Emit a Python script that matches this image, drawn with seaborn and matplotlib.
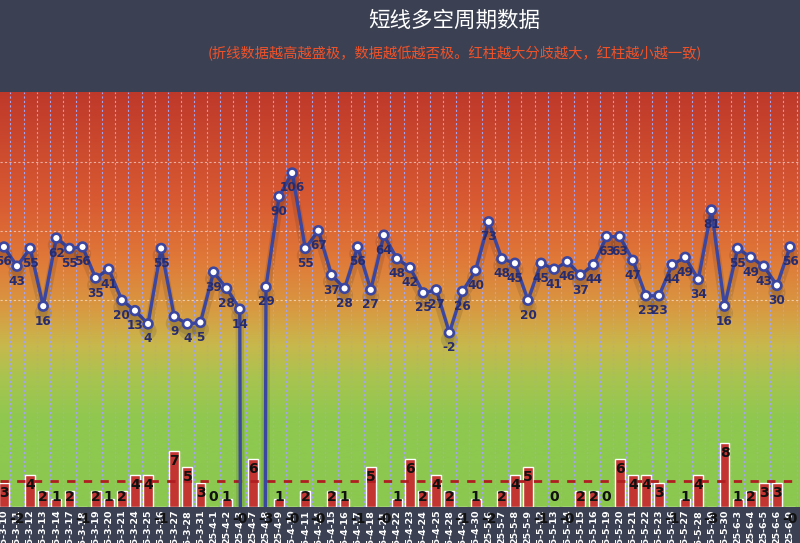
import numpy as np
import pandas as pd
import matplotlib
matplotlib.use("Agg")
import matplotlib.pyplot as plt
import matplotlib.patheffects as pe
from matplotlib.colors import LinearSegmentedColormap
import seaborn as sns

# ---------------- data ----------------
dates = ["25-3-10", "25-3-11", "25-3-12", "25-3-13", "25-3-14", "25-3-17", "25-3-18",
         "25-3-19", "25-3-20", "25-3-21", "25-3-24", "25-3-25", "25-3-26", "25-3-27",
         "25-3-28", "25-3-31", "25-4-1", "25-4-2", "25-4-3", "25-4-7", "25-4-8",
         "25-4-9", "25-4-10", "25-4-11", "25-4-14", "25-4-15", "25-4-16", "25-4-17",
         "25-4-18", "25-4-21", "25-4-22", "25-4-23", "25-4-24", "25-4-25", "25-4-28",
         "25-4-29", "25-4-30", "25-5-6", "25-5-7", "25-5-8", "25-5-9", "25-5-12",
         "25-5-13", "25-5-14", "25-5-15", "25-5-16", "25-5-19", "25-5-20", "25-5-21",
         "25-5-22", "25-5-23", "25-5-26", "25-5-27", "25-5-28", "25-5-29", "25-5-30",
         "25-6-3", "25-6-4", "25-6-5", "25-6-6", "25-6-9"]

line_vals = [56, 43, 55, 16, 62, 55, 56, 35, 41, 20, 13, 4, 55, 9, 4, 5, 39, 28, 14,
             -3000, 29, 90, 106, 55, 67, 37, 28, 56, 27, 64, 48, 42, 25, 27, -2, 26, 40,
             73, 48, 45, 20, 45, 41, 46, 37, 44, 63, 63, 47, 23, 23, 44, 49, 34, 81, 16,
             55, 49, 43, 30, 56]

bar_vals = [3, -2, 4, 2, 1, 2, -1, 2, 1, 2, 4, 4, -1, 7, 5, 3, 0, 1, -0.2, 6, -3,
            1, -0.2, 2, -0.2, 2, 1, -1, 5, -0.2, 1, 6, 2, 4, 2, -1, 1, -2, 2, 4, 5,
            -1, 0, -0.2, 2, 2, 0, 6, 4, 4, 3, -1, 1, 4, -3, 8, 1, 2, 3, 3, -0.2]

avg_level = 3.25

title = "短线多空周期数据"
subtitle = "(折线数据越高越盛极，数据越低越否极。红柱越大分歧越大，红柱越小越一致)"

# ---------------- style ----------------
sns.set_theme(style="white")
plt.rcParams["font.family"] = ["Noto Sans CJK SC", "DejaVu Sans"]
plt.rcParams["axes.unicode_minus"] = False

HEADER = "#3b4153"
LINE_C = "#3a46a0"
BAR_C = "#c23531"

df = pd.DataFrame({"idx": np.arange(len(dates)), "date": dates,
                   "line": line_vals, "bar": bar_vals})

fig = plt.figure(figsize=(8, 5.43), dpi=100, facecolor=HEADER)
ax = fig.add_axes([0, 36 / 543, 1, 415 / 543])
ax.set_facecolor("none")

# gradient background
cmap = LinearSegmentedColormap.from_list(
    "bg", [(0.0, "#8bc84f"), (0.21, "#8fc84f"), (0.31, "#a8c450"),
           (0.39, "#c8b84c"), (0.475, "#d89a42"), (0.60, "#e07838"),
           (0.74, "#d85a32"), (1.0, "#bf392a")])
grad = np.linspace(0, 1, 256).reshape(-1, 1)
ax.imshow(grad, extent=[0, 1, 0, 1], transform=ax.transAxes, origin="lower",
          aspect="auto", cmap=cmap, zorder=0)

# bars
sns.barplot(data=df, x="idx", y="bar", ax=ax, color=BAR_C, saturation=1,
            width=0.75, errorbar=None, zorder=2)
ax.set_xlim(-0.3, 60.76)
ax.set_ylim(0, 52)
ax.axhline(avg_level, color="#b01e22", lw=2, ls=(0, (3, 3)), zorder=4)

for i, v in enumerate(bar_vals):
    y = max(v - 1.25, 1.25) if v >= 0 else -1.5
    ax.text(i, y, f"{v:.0f}", ha="center", va="center", fontsize=10,
            fontweight="bold", color="#111111", clip_on=False, zorder=6,
            family=["DejaVu Sans"])

ax.set_xticks(range(len(dates)))
ax.set_xticklabels(dates, rotation=90, color="white", fontsize=6.8,
                   fontweight="bold", family=["DejaVu Sans"])
ax.set_xticks(np.arange(-0.5, len(dates), 1), minor=True)
ax.tick_params(axis="x", which="both", length=0, pad=2)
ax.set_yticks([])
ax.set_axisbelow(True)
ax.grid(which="minor", axis="x", color="#a4a4f0", ls=(0, (2, 2)), lw=0.8)
ax.grid(which="major", axis="x", visible=False)
ax.set_xlabel("")
ax.set_ylabel("")
for s in ax.spines.values():
    s.set_visible(False)

# line
ax2 = ax.twinx()
sns.lineplot(data=df, x="idx", y="line", ax=ax2, color=LINE_C, lw=2.4,
             marker="o", markersize=6.3, markerfacecolor="white",
             markeredgecolor=LINE_C, markeredgewidth=1.9, zorder=5)
ln = ax2.lines[0]
ln.set_path_effects([pe.SimpleLineShadow(offset=(0, -5), shadow_color="k",
                                         alpha=0.12, linewidth=6), pe.Normal()])
ax2.set_ylim(-119.7, 160.7)
ax2.set_xlim(-0.3, 60.76)
for i, v in enumerate(line_vals):
    if v > -200:
        ax2.annotate(f"{v}", (i, v), xytext=(0, -15), textcoords="offset pixels",
                     ha="center", va="center", fontsize=8.7, fontweight="bold",
                     color="#272c6e", family=["DejaVu Sans"], zorder=7)
ax2.set_yticks([20.2, 66.8, 113.4])
ax2.tick_params(axis="y", length=0, labelright=False)
ax2.grid(axis="y", color="white", alpha=0.55, ls=(0, (2, 2)), lw=0.8)
ax2.grid(axis="x", visible=False)
ax2.set_ylabel("")
ax2.set_xlabel("")
for s in ax2.spines.values():
    s.set_visible(False)

# header texts
fig.text(0.568, 1 - 21 / 543, title, color="white", fontsize=15.5,
         ha="center", va="center")
fig.text(0.569, 1 - 54 / 543, subtitle, color="#f0522a", fontsize=10.3,
         ha="center", va="center")

fig.savefig("out.png", dpi=100, facecolor=HEADER)
